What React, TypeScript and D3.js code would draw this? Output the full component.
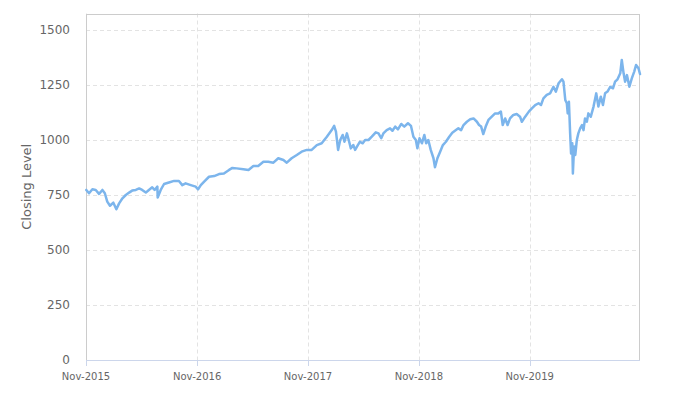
import React from "react";
import * as d3 from "d3";

// Data: days since start date, closing level
const startDate = "2015-11-01";
const dayOffsets = [
  1, 10, 21, 32, 43, 54, 62, 70, 79, 90, 100, 109, 120, 131, 142, 152, 164, 175, 185, 197,
  207, 218, 226, 235, 236, 246, 257, 273, 290, 306, 317, 328, 345, 361, 369, 378, 389, 405, 422, 438,
  454, 471, 482, 496, 518, 535, 551, 567, 584, 600, 617, 633, 650, 661, 677, 694, 710, 727, 743, 760,
  776, 793, 809, 817, 823, 830, 837, 845, 851, 859, 865, 872, 880, 886, 895, 902, 911, 919, 930, 941,
  954, 963, 972, 979, 990, 1001, 1009, 1018, 1027, 1038, 1048, 1060, 1070, 1078, 1086, 1091, 1098, 1106, 1114, 1120,
  1127, 1135, 1144, 1149, 1157, 1166, 1175, 1185, 1196, 1206, 1218, 1226, 1235, 1243, 1254, 1265, 1276, 1287, 1294, 1301,
  1308, 1316, 1325, 1336, 1347, 1358, 1366, 1372, 1380, 1388, 1396, 1407, 1418, 1429, 1435, 1446, 1458, 1468, 1479, 1490,
  1498, 1506, 1517, 1528, 1539, 1547, 1556, 1567, 1572, 1578, 1583, 1586, 1590, 1594, 1597, 1601, 1603, 1607, 1611, 1616,
  1621, 1627, 1633, 1638, 1643, 1649, 1654, 1662, 1671, 1680, 1687, 1695, 1702, 1709, 1717, 1726, 1735, 1742, 1750, 1759,
  1764, 1770, 1775, 1781, 1789, 1797, 1805, 1811, 1819, 1824,
];
const closingLevels = [
  773, 758, 776, 773, 755, 773, 758, 720, 701, 715, 685, 712, 735, 750, 761, 770, 773, 780, 773, 761,
  773, 785, 773, 788, 739, 773, 800, 807, 814, 814, 795, 803, 795, 788, 776, 795, 811, 833, 836, 845,
  848, 864, 873, 871, 867, 864, 882, 882, 901, 901, 897, 917, 909, 897, 917, 932, 947, 955, 955, 977,
  985, 1015, 1045, 1064, 1038, 955, 1000, 1023, 992, 1030, 1000, 962, 977, 955, 977, 992, 985, 1000, 1000, 1015,
  1035, 1030, 1008, 1030, 1045, 1053, 1042, 1061, 1048, 1073, 1061, 1076, 1064, 1015, 1000, 962, 1008, 985, 1023, 985,
  1000, 955, 917, 876, 917, 947, 977, 992, 1015, 1033, 1045, 1053, 1045, 1068, 1083, 1094, 1098, 1083, 1068, 1061,
  1027, 1061, 1091, 1106, 1121, 1121, 1129, 1068, 1098, 1068, 1098, 1114, 1118, 1106, 1083, 1106, 1129, 1144, 1159, 1167,
  1159, 1189, 1205, 1212, 1242, 1220, 1258, 1276, 1265, 1182, 1167, 1121, 1174, 1030, 939, 985, 848, 970, 932, 1000,
  1030, 1053, 1068, 1045, 1098, 1083, 1121, 1106, 1152, 1212, 1152, 1197, 1159, 1212, 1220, 1242, 1235, 1265, 1276, 1303,
  1364, 1303, 1265, 1295, 1242, 1280, 1311, 1341, 1326, 1300,
];
const yTicks = [0, 250, 500, 750, 1000, 1250, 1500];
const xTickDates = ["2015-11-01", "2016-11-01", "2017-11-01", "2018-11-01", "2019-11-01"];
const yAxisTitle = "Closing Level";

const W = 683;
const H = 396;
const M = { left: 86, right: 640, top: 13.5, bottom: 360 };
const FONT = "'DejaVu Sans', Verdana, sans-serif";

export default function App() {
  const parse = d3.timeParse("%Y-%m-%d");
  const start = parse(startDate) as Date;
  const data = dayOffsets.map((d, i) => ({
    date: d3.timeDay.offset(start, d),
    value: closingLevels[i],
  }));
  const x = d3
    .scaleTime()
    .domain([start, data[data.length - 1].date])
    .range([M.left, M.right]);
  const y = d3.scaleLinear().domain([0, 1575]).range([M.bottom, M.top]);
  const line = d3
    .line<{ date: Date; value: number }>()
    .x((d) => x(d.date))
    .y((d) => y(d.value));
  const fmt = d3.timeFormat("%b-%Y");
  const xTicks = xTickDates.map((s) => parse(s) as Date);

  return (
    <svg
      width={W}
      height={H}
      style={{ position: "absolute", left: 0, top: 0, background: "#fff" }}
    >
      <rect x={0} y={0} width={W} height={H} fill="#fff" />
      {yTicks.map((t) => (
        <line
          key={"gy" + t}
          x1={M.left}
          x2={M.right}
          y1={Math.round(y(t)) + 0.5}
          y2={Math.round(y(t)) + 0.5}
          stroke="#e3e3e3"
          strokeDasharray="4,3"
        />
      ))}
      {xTicks.map((t, i) => (
        <line
          key={"gx" + i}
          x1={Math.round(x(t)) + 0.5}
          x2={Math.round(x(t)) + 0.5}
          y1={M.top}
          y2={M.bottom}
          stroke="#e3e3e3"
          strokeDasharray="4,3"
        />
      ))}
      <rect
        x={M.left + 0.5}
        y={Math.round(M.top) + 0.5}
        width={M.right - M.left - 1}
        height={M.bottom - Math.round(M.top)}
        fill="none"
        stroke="#cccccc"
      />
      <line
        x1={M.left}
        x2={M.right}
        y1={M.bottom + 0.5}
        y2={M.bottom + 0.5}
        stroke="#ccd6eb"
      />
      {xTicks.map((t, i) => (
        <line
          key={"tx" + i}
          x1={Math.round(x(t)) + 0.5}
          x2={Math.round(x(t)) + 0.5}
          y1={M.bottom}
          y2={M.bottom + 6}
          stroke="#ccd6eb"
        />
      ))}
      <path
        d={line(data) || ""}
        fill="none"
        stroke="#7cb5ec"
        strokeWidth={2.5}
        strokeLinejoin="round"
        strokeLinecap="round"
      />
      {yTicks.map((t) => (
        <text
          key={"ly" + t}
          x={70}
          y={y(t)}
          dy="0.35em"
          textAnchor="end"
          fontFamily={FONT}
          fontSize={12}
          fill="#666666"
        >
          {t}
        </text>
      ))}
      {xTicks.map((t, i) => (
        <text
          key={"lx" + i}
          x={x(t)}
          y={380}
          textAnchor="middle"
          fontFamily={FONT}
          fontSize={10}
          fill="#666666"
        >
          {fmt(t)}
        </text>
      ))}
      <text
        transform={`translate(31,${(M.top + M.bottom) / 2}) rotate(-90)`}
        textAnchor="middle"
        fontFamily={FONT}
        fontSize={13}
        fill="#666666"
      >
        {yAxisTitle}
      </text>
    </svg>
  );
}
